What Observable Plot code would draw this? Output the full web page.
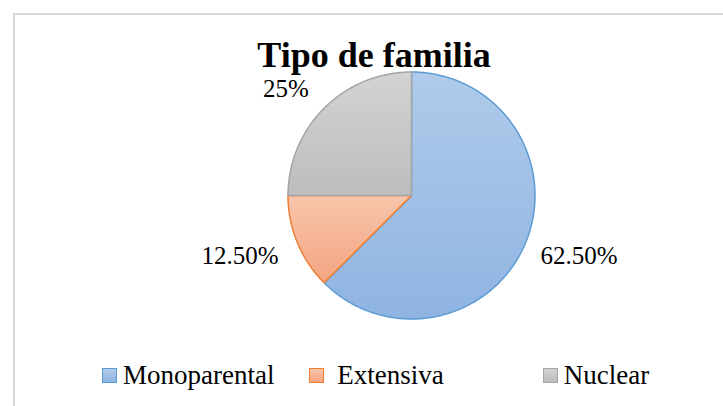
<!DOCTYPE html>
<html><head><meta charset="utf-8">
<script src="https://cdn.jsdelivr.net/npm/d3@7"></script>
<script src="https://cdn.jsdelivr.net/npm/@observablehq/plot@0.6"></script>
<style>
body{margin:0;background:#fff;}
#wrap{position:relative;width:723px;height:406px;overflow:hidden;background:#fff;font-family:"Liberation Serif",serif;}
#frame{position:absolute;left:13px;top:13px;width:900px;height:600px;border:2px solid #d9d9d9;box-sizing:border-box}
#chart{position:absolute;left:0;top:0}
#title{position:absolute;left:0;width:748px;top:35px;text-align:center;font-family:"Liberation Serif",serif;font-weight:bold;font-size:36px;line-height:40px;color:#000}
#legend{position:absolute;left:102px;top:360px;display:flex;font-family:"Liberation Serif",serif;font-size:27px;line-height:30px;color:#000;white-space:pre}
#legend span{font-family:"Liberation Serif",serif;}
.item{display:flex;align-items:flex-start}
.sw{width:15px;height:15px;box-sizing:border-box;margin-top:8px;margin-right:6px;border:1.5px solid}
</style></head>
<body><div id="wrap"><div id="frame"></div><div id="chart"></div><div id="title"></div><div id="legend"></div></div>
<script>
// ---- data ----
const title = "Tipo de familia";
const categories = ["Monoparental", "Extensiva", "Nuclear"];
const shares = [62.5, 12.5, 25];
const valueLabels = ["62.50%", "12.50%", "25%"];
const legendLabels = ["Monoparental", " Extensiva", "Nuclear"];

// ---- styles ----
const strokeColors = ["#5b9bd5", "#ed7d31", "#a5a5a5"];
const topColors = ["#b0cbea", "#f8c5ab", "#d3d3d3"];
const bottomColors = ["#8fb4e2", "#f4a581", "#bdbdbd"];

const arcs = d3.pie().sort(null).value(d => d)(shares);

// slice outlines on the unit circle (angle 0 at 12 o'clock, clockwise)
function sliceOutline(a) {
  const pts = [{x: 0, y: 0}];
  const n = Math.max(2, Math.ceil((a.endAngle - a.startAngle) / (Math.PI / 360)));
  for (let k = 0; k <= n; k++) {
    const t = a.startAngle + (a.endAngle - a.startAngle) * k / n;
    pts.push({x: Math.sin(t), y: Math.cos(t)});
  }
  pts.push({x: 0, y: 0});
  return pts;
}

const R = 1.13;
const labelData = arcs.map((a, i) => {
  const mid = (a.startAngle + a.endAngle) / 2;
  return {label: valueLabels[i], mx: Math.sin(mid), my: Math.cos(mid)};
});
const textStyle = {fontSize: 25, fontFamily: "Liberation Serif", fill: "#000"};

const plot = Plot.plot({
  width: 723, height: 406, margin: 0,
  x: {domain: [-1, 1], range: [287.5, 534.5], axis: null},
  y: {domain: [-1, 1], range: [318.5, 71.5], axis: null},
  style: {background: "transparent", overflow: "visible"},
  marks: [
    ...arcs.map((a, i) => Plot.line(sliceOutline(a), {
      x: "x", y: "y", fill: `url(#grad${i})`, stroke: strokeColors[i],
      strokeWidth: 1.5, strokeLinejoin: "miter", curve: "linear"
    })),
    Plot.text(labelData, {
      filter: d => d.mx > 0,
      x: d => d.mx * R, y: d => d.my * R + Math.sign(d.my) * 0.06,
      text: "label", textAnchor: "start", ...textStyle
    }),
    Plot.text(labelData, {
      filter: d => d.mx <= 0,
      x: d => d.mx * R, y: d => d.my * R + Math.sign(d.my) * 0.06,
      text: "label", textAnchor: "end", dx: -4, ...textStyle
    })
  ]
});

const defs = d3.select(plot).insert("defs", ":first-child");
categories.forEach((c, i) => {
  const g = defs.append("linearGradient").attr("id", `grad${i}`)
    .attr("x1", 0).attr("y1", 0).attr("x2", 0).attr("y2", 1);
  g.append("stop").attr("offset", "0%").attr("stop-color", topColors[i]);
  g.append("stop").attr("offset", "100%").attr("stop-color", bottomColors[i]);
});
document.getElementById("chart").appendChild(plot);

document.getElementById("title").textContent = title;

const legend = document.getElementById("legend");
const gaps = [35, 99, 0];
legendLabels.forEach((lab, i) => {
  const item = document.createElement("div");
  item.className = "item";
  item.style.marginRight = gaps[i] + "px";
  const sw = document.createElement("div");
  sw.className = "sw";
  sw.style.borderColor = strokeColors[i];
  sw.style.background = `linear-gradient(${topColors[i]}, ${bottomColors[i]})`;
  const tx = document.createElement("span");
  tx.textContent = lab;
  item.appendChild(sw);
  item.appendChild(tx);
  legend.appendChild(item);
});
</script>
</body></html>
